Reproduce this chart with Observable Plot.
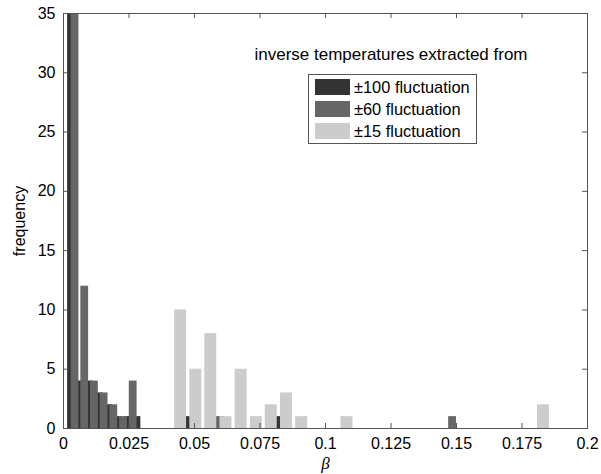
<!DOCTYPE html>
<html>
<head>
<meta charset="utf-8">
<script src="https://cdn.jsdelivr.net/npm/d3@7"></script>
<script src="https://cdn.jsdelivr.net/npm/@observablehq/plot@0.6"></script>
<style>
  html, body { margin: 0; padding: 0; background: #fff; }
  #wrap { position: relative; width: 601px; height: 474px; font-family: "Liberation Sans", Arial, sans-serif; }
  #title { position: absolute; left: 391px; top: 45px; transform: translateX(-50%); white-space: nowrap; font-size: 17px; line-height: 19px; color: #000; }
  #legend { position: absolute; left: 308px; top: 74px; width: 169px; height: 70px; box-sizing: border-box; border: 1px solid #555; background: #fff; }
  .row { position: absolute; left: 6px; height: 16px; display: flex; align-items: center; font-size: 16.4px; white-space: nowrap; color: #000; }
  .sw { width: 35px; height: 16px; margin-right: 4px; }
</style>
</head>
<body>
<div id="wrap"></div>
<script>
// ---- data ----
const seriesNames = ["±100 fluctuation", "±60 fluctuation", "±15 fluctuation"];
const seriesColors = ["#333333", "#666666", "#cccccc"];

// ±100 fluctuation: bin centres (β) and counts (mostly hidden behind the others)
const darkCenters = [0.0031, 0.0062, 0.0099, 0.0136, 0.0173, 0.0210, 0.0247, 0.0280, 0.0474, 0.0822];
const darkCounts  = [45, 4, 4, 3, 2, 1, 1, 1, 1, 1];

// ±60 fluctuation
const medCenters = [0.0044, 0.0081, 0.0118, 0.0155, 0.0192, 0.0229, 0.0266, 0.0598, 0.1485];
const medCounts  = [45, 12, 4, 3, 2, 1, 4, 1, 1];

// ±15 fluctuation
const lightCenters = [0.0447, 0.0505, 0.0562, 0.0620, 0.0678, 0.0736, 0.0793, 0.0851, 0.0909, 0.1082, 0.1832];
const lightCounts  = [10, 5, 8, 1, 5, 1, 2, 3, 1, 1, 2];

const xTicks = [0, 0.025, 0.05, 0.075, 0.1, 0.125, 0.15, 0.175, 0.2];
const xTickLabels = ["0", "0.025", "0.05", "0.075", "0.1", "0.125", "0.15", "0.175", "0.2"];
const yTicks = [0, 5, 10, 15, 20, 25, 30, 35];

// bar widths (in β units) per series
const barWidths = [0.00305, 0.00298, 0.00458];

const makeBars = (centers, counts, s) =>
  centers.map((c, i) => ({c, n: counts[i], s, w: barWidths[s]}));

const bars = [
  ...makeBars(darkCenters, darkCounts, 0),
  ...makeBars(medCenters, medCounts, 1),
  ...makeBars(lightCenters, lightCounts, 2)
];

const frameColor = "#555";
const font = '"Liberation Sans", Arial, sans-serif';

const chart = Plot.plot({
  width: 601,
  height: 474,
  marginLeft: 63,
  marginRight: 14,
  marginTop: 13,
  marginBottom: 46,
  style: {fontFamily: font, fontSize: "16px", color: "#000", background: "#fff"},
  x: {domain: [0, 0.2]},
  y: {domain: [0, 35]},
  marks: [
    ...[0, 1, 2].map(s => Plot.rectY(bars.filter(d => d.s === s), {
      x1: d => d.c - d.w / 2,
      x2: d => d.c + d.w / 2,
      y1: 0,
      y2: "n",
      fill: seriesColors[s],
      clip: true
    })),
    // inward ticks (bottom, top, left, right)
    Plot.ruleX(xTicks, {x: d => d, insetTop: 410, stroke: frameColor}),
    Plot.ruleX(xTicks, {x: d => d, insetBottom: 410, stroke: frameColor}),
    Plot.ruleY(yTicks, {y: d => d, insetRight: 519, stroke: frameColor}),
    Plot.ruleY(yTicks, {y: d => d, insetLeft: 519, stroke: frameColor}),
    Plot.axisX({ticks: xTicks, tickFormat: d => xTickLabels[xTicks.indexOf(d)], tickSize: 0, tickPadding: 9, label: null, fontSize: 16}),
    Plot.axisY({ticks: yTicks, tickSize: 0, tickPadding: 8, label: null, fontSize: 16}),
    Plot.frame({stroke: frameColor}),
    Plot.text(["frequency"], {frameAnchor: "left", textAnchor: "middle", rotate: -90, dx: -44, fontSize: 16, fill: "#000"}),
    Plot.text(["β"], {frameAnchor: "bottom", lineAnchor: "middle", dy: 35, fontSize: 17, fontStyle: "italic", fontFamily: '"Liberation Serif", "DejaVu Serif", serif', fill: "#000"})
  ]
});

const wrap = document.getElementById("wrap");
wrap.appendChild(chart);

const title = document.createElement("div");
title.id = "title";
title.textContent = "inverse temperatures extracted from";
wrap.appendChild(title);

const legend = document.createElement("div");
legend.id = "legend";
seriesNames.forEach((name, i) => {
  const row = document.createElement("div");
  row.className = "row";
  row.style.top = (4 + 22 * i) + "px";
  const sw = document.createElement("div");
  sw.className = "sw";
  sw.style.background = seriesColors[i];
  const t = document.createElement("span");
  t.textContent = name;
  row.appendChild(sw);
  row.appendChild(t);
  legend.appendChild(row);
});
wrap.appendChild(legend);
</script>
</body>
</html>
